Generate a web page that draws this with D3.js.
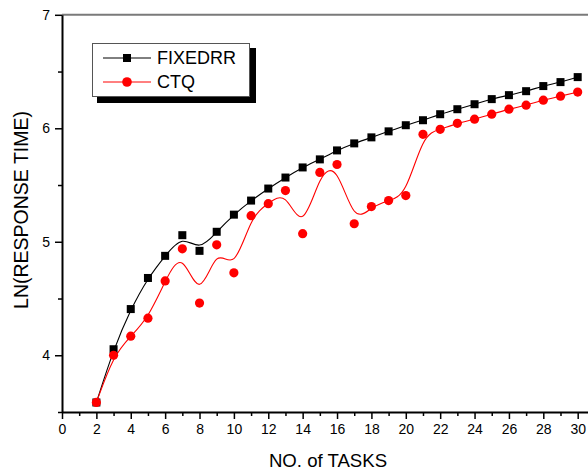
<!DOCTYPE html>
<html>
<head>
<meta charset="utf-8">
<script src="https://cdn.jsdelivr.net/npm/d3@7"></script>
<style>
  html, body { margin: 0; padding: 0; background: #fff; }
  svg { display: block; font-family: "Liberation Sans", Arial, sans-serif; }
</style>
</head>
<body>
<svg id="chart" width="588" height="474"></svg>
<script>
const tasks = [2,3,4,5,6,7,8,9,10,11,12,13,14,15,16,17,18,19,20,21,22,23,24,25,26,27,28,29,30];
const fixedrr = [3.584,4.053,4.407,4.681,4.876,5.058,4.920,5.088,5.239,5.363,5.469,5.566,5.655,5.726,5.805,5.867,5.920,5.973,6.027,6.071,6.124,6.168,6.212,6.257,6.292,6.327,6.372,6.407,6.451];
const ctq = [3.584,4.000,4.168,4.327,4.655,4.938,4.460,4.973,4.726,5.230,5.336,5.451,5.071,5.611,5.681,5.159,5.310,5.363,5.407,5.947,5.991,6.044,6.080,6.124,6.168,6.204,6.248,6.283,6.319];
const xTicks = [0,2,4,6,8,10,12,14,16,18,20,22,24,26,28,30];
const yTicks = [4,5,6,7];
const seriesNames = ["FIXEDRR", "CTQ"];

const svg = d3.select("#chart");
const x = d3.scaleLinear().domain([0, 30.6]).range([62, 588]);
const y = d3.scaleLinear().domain([3.5, 7]).range([412, 14.8]);

// top frame line
svg.append("line").attr("x1", 62).attr("x2", 588).attr("y1", 14.8).attr("y2", 14.8)
  .attr("stroke", "#7a7a7a").attr("stroke-width", 2);

// minor ticks
const gx = svg.append("g").attr("transform", "translate(0,412)");
gx.call(d3.axisBottom(x).tickValues(d3.range(1, 31, 2)).tickSize(4).tickFormat(""))
  .call(g => g.select(".domain").remove());
gx.selectAll("line").attr("stroke-width", 1.5);
const gx2 = svg.append("g").attr("transform", "translate(0,412)");
gx2.call(d3.axisBottom(x).tickValues(xTicks).tickSize(7).tickSizeOuter(0).tickPadding(5));
gx2.select(".domain").attr("stroke-width", 2);
gx2.selectAll("line").attr("stroke-width", 1.5);
gx2.selectAll("text").attr("font-size", 14).attr("font-family", "Liberation Sans, Arial, sans-serif").attr("fill", "#000");

const gy = svg.append("g").attr("transform", "translate(62,0)");
gy.call(d3.axisLeft(y).tickValues([3.5, 4.5, 5.5, 6.5]).tickSize(4).tickFormat(""))
  .call(g => g.select(".domain").remove());
gy.selectAll("line").attr("stroke-width", 1.5);
const gy2 = svg.append("g").attr("transform", "translate(62,0)");
gy2.call(d3.axisLeft(y).tickValues(yTicks).tickSize(7).tickSizeOuter(0).tickPadding(5).tickFormat(d3.format("d")));
gy2.select(".domain").attr("stroke-width", 2);
gy2.selectAll("line").attr("stroke-width", 1.5);
gy2.selectAll("text").attr("font-size", 14).attr("font-family", "Liberation Sans, Arial, sans-serif").attr("fill", "#000");

// axis titles
svg.append("text").attr("x", 328).attr("y", 467).attr("text-anchor", "middle")
  .attr("font-size", 18.6).text("NO. of TASKS");
svg.append("text").attr("transform", "translate(27.5,210) rotate(-90)").attr("text-anchor", "middle")
  .attr("font-size", 19.5).text("LN(RESPONSE TIME)");

const line = d3.line().curve(d3.curveBasis).x((d, i) => x(tasks[i])).y(d => y(d));

svg.append("path").datum(fixedrr).attr("d", line).attr("fill", "none").attr("stroke", "#000").attr("stroke-width", 1.1);
svg.append("path").datum(ctq).attr("d", line).attr("fill", "none").attr("stroke", "#ff0000").attr("stroke-width", 1.1);

const sq = 8;
svg.append("g").selectAll("rect").data(fixedrr).join("rect")
  .attr("x", (d, i) => x(tasks[i]) - sq / 2).attr("y", d => y(d) - sq / 2)
  .attr("width", sq).attr("height", sq).attr("fill", "#000");
svg.append("g").selectAll("circle").data(ctq).join("circle")
  .attr("cx", (d, i) => x(tasks[i])).attr("cy", d => y(d)).attr("r", 4.6).attr("fill", "#ff0000");

// legend
const lg = svg.append("g");
lg.append("rect").attr("x", 97).attr("y", 48).attr("width", 159).attr("height", 55).attr("fill", "#000");
lg.append("rect").attr("x", 92.5).attr("y", 43.5).attr("width", 157).attr("height", 53)
  .attr("fill", "#fff").attr("stroke", "#555").attr("stroke-width", 1);
const rows = [{name: seriesNames[0], color: "#000", yy: 58}, {name: seriesNames[1], color: "#ff0000", yy: 82}];
rows.forEach(r => {
  lg.append("line").attr("x1", 103).attr("x2", 151).attr("y1", r.yy).attr("y2", r.yy)
    .attr("stroke", r.color).attr("stroke-width", 1);
  lg.append("text").attr("x", 157).attr("y", r.yy + 6.3).attr("font-size", 18).text(r.name);
});
lg.append("rect").attr("x", 127 - sq / 2).attr("y", 58 - sq / 2).attr("width", sq).attr("height", sq).attr("fill", "#000");
lg.append("circle").attr("cx", 127).attr("cy", 82).attr("r", 4.8).attr("fill", "#ff0000");
</script>
</body>
</html>
